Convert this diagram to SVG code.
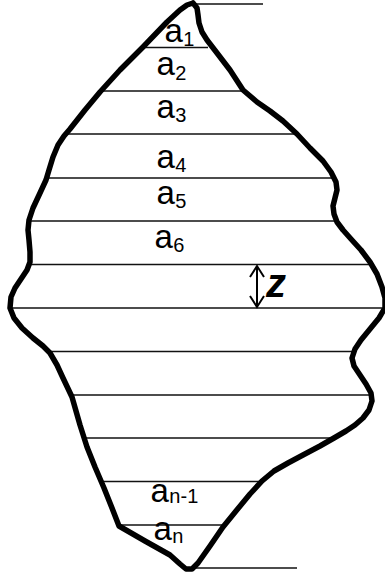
<svg xmlns="http://www.w3.org/2000/svg" width="385" height="573" viewBox="0 0 385 573">
<style>
.l{stroke:#111;stroke-width:1.3;fill:none}
.o{stroke:#000;stroke-width:5.5;fill:none;stroke-linejoin:round;stroke-linecap:round}
.t{font-family:"Liberation Sans",Arial,sans-serif;font-size:33px;fill:#000}
.s{font-size:20px}
</style>
<rect width="385" height="573" fill="#fff"/>
<g id="connectors">
<line class="l" x1="195" y1="4" x2="263" y2="4"/>
<line class="l" x1="140" y1="47.5" x2="208" y2="47.5"/>
<line class="l" x1="102" y1="91" x2="244" y2="91"/>
<line class="l" x1="66" y1="134" x2="296" y2="134"/>
<line class="l" x1="46" y1="178" x2="335" y2="178"/>
<line class="l" x1="27" y1="221" x2="335" y2="221"/>
<line class="l" x1="28" y1="264.5" x2="370" y2="264.5"/>
<line class="l" x1="10" y1="308" x2="385" y2="308"/>
<line class="l" x1="48" y1="351.5" x2="354" y2="351.5"/>
<line class="l" x1="69" y1="395" x2="372" y2="395"/>
<line class="l" x1="82" y1="438" x2="334" y2="438"/>
<line class="l" x1="103" y1="481.5" x2="263" y2="481.5"/>
<line class="l" x1="118" y1="525" x2="226" y2="525"/>
<line class="l" x1="187" y1="568" x2="297" y2="568"/>
</g>
<g id="outline">
<polyline class="o" points="193,3 197,8 198,15 199,23 202,32 207,40 217,53 230,70 243,90 257,102 270,111 283,121 297,134 310,148 323,161 331,172 336,182 337,190 335,198 333,206 334,214 337,222 343,230 351,239 361,250 370,262 377,274 382,287 385,298 385,308 379,318 370,329 361,340 355,349 352,358 354,366 360,375 366,384 371,393 372,401 369,410 363,418 355,425 346,431 334,438 320,446 303,455 288,463 274,471 262,481 250,494 236,511 223,527 210,546 198,563 192,569 186,569 180,564 170,555 145,541 119,526 112,508 104,488 95,467 87,447 80,425 72,397 63,378 57,365 50,353 43,346 33,338 22,328 14,318 10,308 11,297 15,288 21,279 27,270 30,262 30,252 29,240 28,230 29,220 33,208 40,193 46,180 49,170 53,157 58,145 64,136 70,129 85,110 100,92 120,70 143,47 167,22 180,10 187,5 193,3"/>
</g>
<g id="dz">
<line x1="257" y1="266" x2="257" y2="307" stroke="#000" stroke-width="2"/>
<polyline points="250,277 257,266 264,277" fill="none" stroke="#000" stroke-width="2"/>
<polyline points="250,296 257,307 264,296" fill="none" stroke="#000" stroke-width="2"/>
<text x="266" y="297" style="font-family:'Liberation Sans',Arial,sans-serif;font-size:40px;font-weight:bold;font-style:italic">z</text>
</g>
<g id="labels">
<text class="t" x="164.5" y="42">a<tspan class="s" dy="4" dx="0.5">1</tspan></text>
<text class="t" x="156.5" y="75">a<tspan class="s" dy="5" dx="0.5">2</tspan></text>
<text class="t" x="156.5" y="118">a<tspan class="s" dy="4" dx="0.5">3</tspan></text>
<text class="t" x="156.5" y="168">a<tspan class="s" dy="4" dx="0.5">4</tspan></text>
<text class="t" x="156.5" y="204">a<tspan class="s" dy="4" dx="0.5">5</tspan></text>
<text class="t" x="154.5" y="248">a<tspan class="s" dy="4" dx="0.5">6</tspan></text>
<text class="t" x="150.5" y="502">a<tspan class="s" dy="1" dx="0.5">n-1</tspan></text>
<text class="t" x="153.5" y="540">a<tspan class="s" dy="3" dx="0.5">n</tspan></text>
</g>
</svg>
